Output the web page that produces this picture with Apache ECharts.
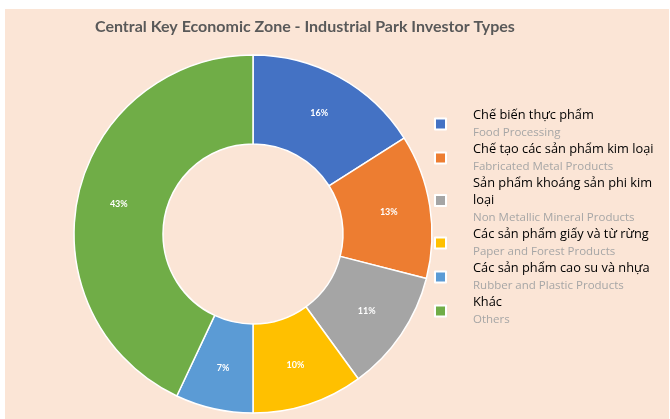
<!DOCTYPE html>
<html>
<head>
<meta charset="utf-8">
<script src="https://cdn.jsdelivr.net/npm/echarts@6/dist/echarts.min.js"></script>
<style>
	body { margin: 0; background: #fff; }
	#chart { position: absolute; left: 5px; top: 9px; width: 664px; height: 410px; }
</style>
</head>
<body>
<div id="chart"></div>
<script>
// du lieu
var names = ['Chế biến thực phẩm', 'Chế tạo các sản phẩm kim loại', 'Sản phẩm khoáng sản phi kim\nloại', 'Các sản phẩm giấy và từ rừng', 'Các sản phẩm cao su và nhựa', 'Khác'];
var namesEn = ['Food Processing', 'Fabricated Metal Products', 'Non Metallic Mineral Products', 'Paper and Forest Products', 'Rubber and Plastic Products', 'Others'];
var values = [16, 13, 11, 10, 7, 43];
var colors = ['#4472C4', '#ED7D31', '#A5A5A5', '#FFC000', '#5B9BD5', '#70AD47'];

var myChart = echarts.init(document.getElementById('chart'));
var data = [];
for (var i = 0; i < values.length; i++) {
	data.push({ name: names[i], value: values[i] });
}

option = {
	backgroundColor: '#FBE5D6',
	color: colors,
	title: {
		text: 'Central Key Economic Zone - Industrial Park Investor Types',
		left: 85,
		top: 5,
		textStyle: {
			fontFamily: 'Lato',
			fontWeight: 'bold',
			fontSize: 16,
			color: '#595959'
		}
	},
	legend: {
		orient: 'vertical',
		left: 424,
		top: 93,
		itemWidth: 11,
		itemHeight: 11,
		itemGap: 0,
		icon: 'rect',
		formatter: function(name) {
			var idx = names.indexOf(name);
			return '{vn|' + name.split('\n').join('}\n{vn|') + '}\n{en|' + namesEn[idx] + '}';
		},
		textStyle: {
			padding: [0, 0, 0, 22],
			lineHeight: 17,
			rich: {
				vn: { fontFamily: 'Open Sans', fontSize: 12.8, color: '#000', lineHeight: 17, height: 17 },
				en: { fontFamily: 'Open Sans', fontSize: 11.5, color: '#A6A6A6', lineHeight: 17, height: 17 }
			}
		}
	},
	series: [{
		type: 'pie',
		center: [248, 225],
		radius: [90, 179],
		startAngle: 90,
		clockwise: true,
		avoidLabelOverlap: false,
		itemStyle: {
			borderColor: '#fff',
			borderWidth: 1.5
		},
		label: {
			position: 'inside',
			formatter: '{c}%',
			color: '#fff',
			fontFamily: 'Lato',
			fontWeight: 'bold',
			fontSize: 9
		},
		labelLine: { show: false },
		data: data
	}]
};
myChart.setOption(option);
</script>
</body>
</html>
